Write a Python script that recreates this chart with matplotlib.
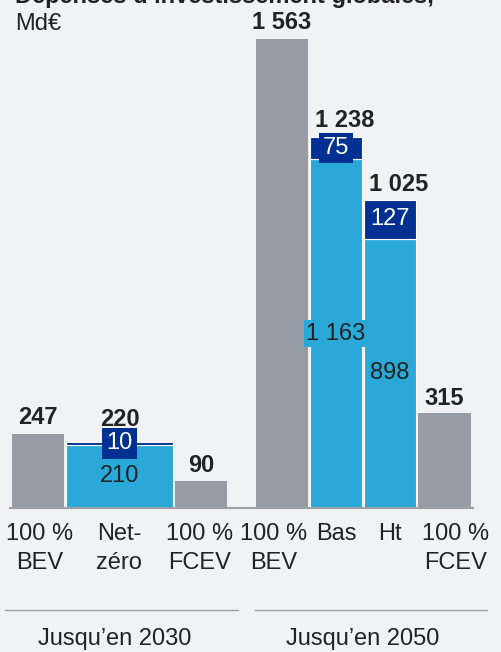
import matplotlib
matplotlib.use("Agg")
import matplotlib.pyplot as plt

# Данные
categories = ["100 %\nBEV", "Net-\nzéro", "100 %\nFCEV", "100 %\nBEV", "Bas", "Ht", "100 %\nFCEV"]
totals = [247, 220, 90, 1563, 1238, 1025, 315]
base_vals = [247, 210, 90, 1563, 1163, 898, 315]
extra_vals = [0, 10, 0, 0, 75, 127, 0]
is_scenario = [False, True, False, False, True, True, False]
groups = ["Jusqu’en 2030", "Jusqu’en 2050"]
title = "Dépenses d’investissement globales,"
unit = "Md€"

# Mise en page (pixels)
W, H = 501, 652
baseline_px = 508
px_per_unit = 469 / 1563
bar_left = [12, 66, 175, 256, 310, 364, 418]
bar_width = [52, 107, 52, 52, 52, 52, 53]
tick_x = [40, 119, 200, 274, 336, 390, 456]
total_dx = [0, 0, 0, 0, 9, 9, 0]
total_gap = [16, 22, 15, 17, 16, 16, 15]
group_lines = [(5, 238), (255, 487)]
group_x = [115, 363]

BG = "#f1f2f4"
GRAY = "#959ca3"
LIGHT = "#2aa8d7"
DARK = "#003091"
TXT = "#222222"
FS = 17

plt.rcParams['font.family'] = ['Liberation Sans', 'DejaVu Sans']

fig = plt.figure(figsize=(W / 100, H / 100), dpi=100)
fig.patch.set_facecolor(BG)


def fx(x):
    return x / W


def fy(y):
    return 1 - y / H


ax = fig.add_axes([0, fy(baseline_px), 1, baseline_px / H])
ax.set_facecolor(BG)
ax.set_xlim(0, W)
ax.set_ylim(0, baseline_px / px_per_unit)
ax.axis("off")

for i in range(len(categories)):
    x = bar_left[i]
    w = bar_width[i]
    cx = x + w / 2
    if is_scenario[i]:
        ax.bar(x, base_vals[i], width=w, align='edge', color=LIGHT,
               edgecolor='white', linewidth=0.8)
        ax.bar(x, extra_vals[i], bottom=base_vals[i], width=w, align='edge',
               color=DARK, edgecolor='white', linewidth=0.8)
        # valeur du segment clair
        ax.text(cx, base_vals[i] / 2, f"{base_vals[i]:,}".replace(",", " "),
                ha='center', va='center', fontsize=FS, color=TXT,
                bbox=dict(boxstyle='square,pad=0.12', fc=LIGHT, ec='none'))
        # valeur du segment foncé
        ax.text(cx, base_vals[i] + extra_vals[i] / 2, str(extra_vals[i]),
                ha='center', va='center', fontsize=FS, color='white',
                bbox=dict(boxstyle='square,pad=0.17', fc=DARK, ec='none'))
    else:
        ax.bar(x, totals[i], width=w, align='edge', color=GRAY, linewidth=0)

    ax.annotate(f"{totals[i]:,}".replace(",", " "), (cx, totals[i]),
                xytext=(total_dx[i] * 0.72, total_gap[i] * 0.72),
                textcoords='offset points', ha='center', va='center',
                fontsize=FS, fontweight='bold', color=TXT)

# ligne de base
ax.plot([10, 473], [0, 0], color="#9aa0a6", linewidth=1.5, clip_on=False)

# libellés des catégories
for i, lab in enumerate(categories):
    lines = lab.split("\n")
    for j, ln in enumerate(lines):
        fig.text(fx(tick_x[i]), fy(534 + 29 * j), ln, ha='center', va='center',
                 fontsize=FS, color=TXT)

# groupes
for (x0, x1), gx, g in zip(group_lines, group_x, groups):
    fig.add_artist(plt.Line2D([fx(x0), fx(x1)], [fy(610), fy(610)],
                              color="#a0a4a8", linewidth=1.0))
    fig.text(fx(gx), fy(639), g, ha='center', va='center', fontsize=FS, color=TXT)

# titre (coupé en haut, comme dans l'original)
fig.text(fx(15), fy(3), title, ha='left', va='baseline', fontsize=FS,
         fontweight='bold', color=TXT)
fig.text(fx(15), fy(30), unit, ha='left', va='baseline', fontsize=FS, color=TXT)

fig.savefig("out.png", dpi=100, facecolor=BG)
